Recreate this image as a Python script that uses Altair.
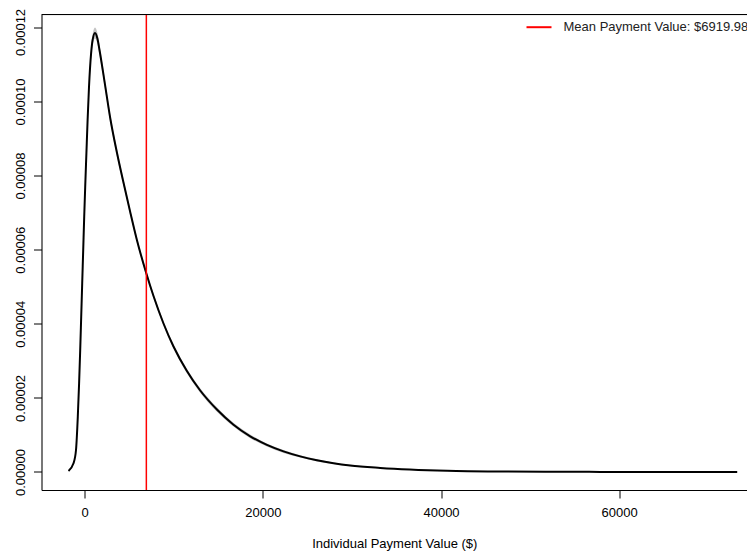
import altair as alt
import pandas as pd

# ---- data ----
pay_x = [-1819, -1257, -977, -775, -629, -505, -393, -281, -168, -56,
         56, 191, 326, 483, 718, 887, 1156,
         1426, 1661, 2301, 2863, 3615, 4468, 5108, 5860, 6904, 7723,
         8846, 9969, 11473, 12966, 14841, 16704, 18579, 20454, 22317, 24192,
         26067, 27930, 29805, 33172, 40694, 46640, 57870, 73250]
density = [2.7e-7, 2.35e-6, 5.94e-6, 1.493e-5, 2.394e-5, 3.293e-5, 4.192e-5, 5.093e-5, 5.992e-5, 6.891e-5,
           7.7e-5, 8.602e-5, 9.5e-5, 1.04e-4, 1.13e-4, 1.166e-4, 1.185e-4,
           1.170e-4, 1.139e-4, 1.042e-4, 9.554e-5, 8.623e-5, 7.692e-5, 7.017e-5, 6.262e-5, 5.371e-5, 4.750e-5,
           4.008e-5, 3.387e-5, 2.726e-5, 2.200e-5, 1.687e-5, 1.277e-5, 9.64e-6, 7.31e-6, 5.56e-6, 4.21e-6,
           3.16e-6, 2.35e-6, 1.75e-6, 1.11e-6, 3.5e-7, 1.5e-7, 3.2e-8, 3e-9]
band_half = [1e-7, 2e-7, 3e-7, 4e-7, 5e-7, 6e-7, 7e-7, 8e-7, 9e-7, 1.0e-6,
             1.0e-6, 1.1e-6, 1.2e-6, 1.3e-6, 1.4e-6, 1.5e-6, 1.5e-6,
             1.5e-6, 1.4e-6, 1.2e-6, 1.1e-6, 1.0e-6, 9e-7, 8e-7, 7e-7, 7e-7, 6e-7,
             6e-7, 6e-7, 6e-7, 6e-7, 6e-7, 5e-7, 5e-7, 4e-7, 4e-7, 3e-7,
             3e-7, 2e-7, 2e-7, 1e-7, 1e-7, 5e-8, 2e-8, 1e-8]
mean_value = [6919.98]
mean_label = ["Mean Payment Value: $6919.98"]
x_ticks = [0, 20000, 40000, 60000]
y_ticks = [0.0, 0.00002, 0.00004, 0.00006, 0.00008, 0.00010, 0.00012]

df = pd.DataFrame({
    "x": pay_x,
    "y": density,
    "lo": [d - b for d, b in zip(density, band_half)],
    "hi": [d + b for d, b in zip(density, band_half)],
})
mean_df = pd.DataFrame({"mean": mean_value, "label": mean_label})

W, H = 705.5, 475.5
FONT = "Liberation Sans"

xs = alt.Scale(domain=[-4850, 74348], nice=False, zero=False)
ys = alt.Scale(domain=[-4.86e-6, 1.2348e-4], nice=False, zero=False)

x_axis = alt.Axis(values=x_ticks, format="d", title="Individual Payment Value ($)", grid=False,
                  tickSize=8, tickColor="black", domainColor="black", labelColor="black",
                  labelFont=FONT, labelFontSize=13, labelPadding=8,
                  titleFont=FONT, titleFontSize=13, titleFontWeight="normal", titleColor="black",
                  titlePadding=18)
y_axis = alt.Axis(values=y_ticks, format=".5f", title=None, grid=False,
                  tickSize=8, tickColor="black", domainColor="black", labelColor="black",
                  labelFont=FONT, labelFontSize=13, labelAngle=270, labelAlign="center",
                  labelBaseline="bottom", labelPadding=6,
                  labelOffset={"condition": {"test": "datum.value > 0.00011", "value": 4.5},
                               "value": 0})

band = alt.Chart(df).mark_area(color="#BDBDBD", opacity=0.9, interpolate="monotone").encode(
    x=alt.X("x:Q", scale=xs, axis=x_axis),
    y=alt.Y("lo:Q", scale=ys, axis=y_axis),
    y2="hi:Q",
)
line = alt.Chart(df).mark_line(color="black", strokeWidth=2, interpolate="monotone").encode(
    x=alt.X("x:Q", scale=xs),
    y=alt.Y("y:Q", scale=ys),
)
mean_rule = alt.Chart(mean_df).mark_rule(strokeWidth=1.5).encode(
    x=alt.X("mean:Q", scale=xs),
    color=alt.Color("label:N",
                    scale=alt.Scale(domain=mean_label, range=["#FF0000"]),
                    legend=alt.Legend(orient="none", legendX=484, legendY=-0.8, title=None,
                                      symbolType="stroke", symbolSize=625, symbolStrokeWidth=2,
                                      labelFont=FONT, labelFontSize=13, labelColor="#222222",
                                      labelLimit=600, labelOffset=11, padding=0)),
)
top_border = alt.Chart(pd.DataFrame({"a": [0]})).mark_rule(color="black", strokeWidth=1).encode(
    x=alt.value(0), x2=alt.value(W), y=alt.value(0)
)

chart = alt.layer(band, line, mean_rule, top_border).properties(
    width=W, height=H,
    autosize=alt.AutoSizeParams(type="none"),
    padding={"left": 33.5, "top": 6.5, "right": 0, "bottom": 61},
).configure_view(stroke=None).configure(background="white")

chart.save("out.html", embed_options={"renderer": "svg", "actions": False})
